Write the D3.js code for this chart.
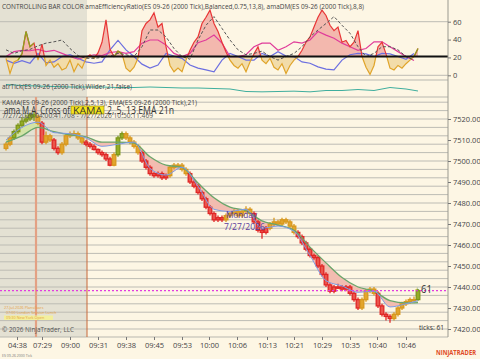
<!DOCTYPE html>
<html>
<head>
<meta charset="utf-8">
<script src="https://cdn.jsdelivr.net/npm/d3@7"></script>
<style>
  body { margin: 0; background: #fdf6e4; }
  svg { display: block; font-family: "Open Sans", "Noto Sans", sans-serif; }
</style>
</head>
<body>
<svg id="chart" width="480" height="359"></svg>
<script>
// ---- data ----
var timeTickBars = [2.75, 9, 16, 23, 30, 37, 44, 50.75, 57.75, 65.25, 72, 79, 86, 92.75, 100];
var timeLabels = ["04:38", "07:29", "09:00", "09:31", "09:38", "09:45", "09:53", "10:00", "10:06", "10:13", "10:21", "10:29", "10:35", "10:40", "10:46"];
var priceTicks = [7420, 7430, 7440, 7450, 7460, 7470, 7480, 7490, 7500, 7510, 7520];
var oscTicks = [0, 20, 40, 60];

var opens = [7506,7508,7511,7514,7517,7519,7520,7522,7521,7518,
  7509,7512,7510,7506,7504,7508,7512,7513,7513,7511,
  7509,7508,7507,7505.5,7504,7503,7501,7498,7503,7511,
  7513,7511,7509,7507,7504,7500,7497,7494,7493,7494,
  7492,7493,7497,7498,7498,7496,7494,7490,7488,7485,
  7482,7478,7475,7472,7473,7472,7474,7475,7476,7474,
  7476,7477,7475,7471,7467,7466,7468,7470,7471,7470,
  7472,7471,7469,7466,7464,7461,7458,7455,7454,7450,
  7446,7441,7438,7440,7440,7439,7440,7437,7434,7430,
  7434,7438,7439,7437,7431,7427,7426,7425,7427,7430,
  7432,7433,7434,7434];
var highs = [7509,7512,7515,7518,7521,7522,7523,7523.5,7522,7519,
  7514,7513,7511,7507,7509,7513,7514,7514.5,7514,7512,
  7510,7509,7508,7506,7505,7504,7502,7504,7512,7514,
  7514,7512,7510,7508,7505,7501,7498,7495,7495,7495,
  7494,7498,7499,7499,7499,7497,7495,7491,7489,7486,
  7483,7479,7476,7474,7474,7475,7476,7477,7477,7477,
  7478.5,7478,7476,7472,7468,7469,7471,7473,7472,7473,
  7473,7472,7470,7467,7465,7462,7459,7456,7455,7451,
  7447,7442,7441,7441.5,7441,7441,7441,7438,7435,7435,
  7439,7440,7440,7438,7432,7428,7427,7428,7431,7433,
  7434,7435,7435.5,7439];
var lows = [7505,7507,7510,7513,7516,7518,7519,7519,7517,7508,
  7508,7509,7505,7503,7503,7507,7511,7512,7510,7508,
  7507,7506,7505,7503,7502,7500,7497.5,7497.5,7502,7510,
  7510,7508,7506,7503,7499,7496,7493,7492,7492,7491,
  7491,7492,7496,7497,7495,7493,7489,7487,7484,7481,
  7477,7474,7471,7471,7471,7471,7473,7474,7473,7473,
  7475,7474,7470,7466,7463,7465,7467,7469,7469,7469,
  7470,7468,7465,7463,7460,7457,7454,7453,7449,7445,
  7440,7437,7437,7439,7438,7438,7436,7433,7429,7429,
  7433,7437,7436,7430,7426,7424,7423,7424,7426,7429,
  7431,7432,7433,7433.5];
var closes = [7508,7511,7514,7517,7519,7520,7522,7521,7518,7509,
  7512,7510,7506,7504,7508,7512,7513,7513,7511,7509,
  7508,7507,7505.5,7504,7503,7501,7498,7503,7511,7513,
  7511,7509,7507,7504,7500,7497,7494,7493,7494,7492,
  7493,7497,7498,7498,7496,7494,7490,7488,7485,7482,
  7478,7475,7472,7473,7472,7474,7475,7476,7474,7476,
  7477,7475,7471,7467,7466,7468,7470,7471,7470,7472,
  7471,7469,7466,7464,7461,7458,7455,7454,7450,7446,
  7441,7438,7440,7440,7439,7440,7437,7434,7430,7434,
  7438,7439,7437,7431,7427,7426,7425,7427,7430,7432,
  7433,7434,7434,7438.25];
// bar colour state: r = trend down, o = chop, g = trend up
var barColors = ("oo gggggg o r oo rr oooooo rrrrrrr o gg oooo rrrrrrr ooooo rrrrrrrrr " +
  "ooooooo rrrr ooooooo rrrrrrrrrrrrrrrr oooo rrrr oooooo g").replace(/ /g, "").split("");

// KAMA / EMA, one reading every 4 bars (and the last bar)
var emaVals = [7509,7512,7516,7514,7512.4,7511.5,7509,7509,7508.5,7502,7498,7497,7489.5,7482.5,
  7478,7476.3,7471.5,7469.5,7467,7459,7451.5,7444.5,7440,7438,7433.5,7432.4,7432.6];
var kamaVals = [7510,7516,7518.5,7513.5,7513,7511,7507,7508,7509,7496.5,7493.3,7497,7488,7477,
  7476,7477,7468,7469,7466.5,7455,7443,7440.5,7437.5,7438,7430.5,7432,7433.5];
var atrVals = [13.7,13.1,12.8,12.5,12.2,12.2,12.2,11.9,11.9,12.2,11.9,11.6,11.6,11.3,11,
  9.5,9.3,9.5,9.7,9.3,10.1,10.1,10.7,10.1,11.9,11,9.8];

// oscillator panel: efficiency ratio every bar, the others every 2 bars
var erVals = [19,2,15,17,24,49,32,36,17,35,
  11,17,9,13,6,8,17,4,13,8,
  19,23,19,25,37,62,29,21,27,24,
  8,4,9,19,50,58,62,70,54,58,
  32,11,4,8,4,17,28,37,43,58,
  65,73,58,49,37,26,17,11,8,13,
  4,15,24,32,17,13,19,9,6,13,
  2,11,17,21,28,37,43,54,65,73,
  67,56,50,54,37,39,32,37,50,21,
  9,1,11,32,37,24,8,6,11,8,
  13,17,21,30];
var erGreen = [[3, 7], [27, 29], [102, 103]];
var erLevel = 21;
var dmPlus = [21,26.5,28,27.5,29,26.5,28,24.5,21,18, 21,23,22,25.5,26.5,24.5,26.5,36,39.5,39.5,
  34,24.5,21,24.5,36.5,39.5,45,36,21,21, 23,32,36,36,28,32,37.5,36,39.5,49,
  45,41.5,36,32,28,30,37.5,37.5,32,26.5, 21,16.5];
var dmMinus = [17,13.5,16.5,13.5,24.5,14,15,21,23,19, 15,13.5,15,28.5,39,28.5,21,12.5,8,11.5,
  24.5,21.5,19,11.5,8,6,4,17,24.5,21, 17,17,24.5,21,26.5,21.5,21,15,13.5,9.5,
  7,6,17,23,24.5,24,21,24.5,24,21, 18,24.5];
var adx = [28.5,24.5,27.5,29,33,36,37.5,39.5,30,22, 19,19,20,21.5,24.5,23,21,32,50.7,50.7,
  43,30,21,18,39.5,56,65.7,52.5,39.5,28.5, 23,24.5,27,21,17,21,24.5,32,43,50.7,
  58,65.7,56,47,32,21,24.5,32,32,28.5, 21,17];

var sessionLines = [7.5, 20.25];   // bar positions of London lunch / NY open lines
var lastPrice = 7438.25;

// ---- layout ----
var svg = d3.select("#chart");
var axisX = 448;
var oscBottom = 80, priceTop = 97, priceBottom = 337;

var x = d3.scaleLinear().domain([0, closes.length - 1]).range([6, 418]);
var yOsc = d3.scaleLinear().domain([0, 60]).range([75.3, 21.7]);
var yAtr = d3.scaleLinear().domain([8, 14]).range([94, 84]);
var y = d3.scaleLinear().domain([7420, 7520]).range([329, 119]);

var defs = svg.append("defs");
function clipRect(id, x0, y0, x1, y1) {
  defs.append("clipPath").attr("id", id).append("rect")
    .attr("x", x0).attr("y", y0).attr("width", x1 - x0).attr("height", y1 - y0);
}
clipRect("oscClip", 0, 0, axisX, oscBottom);
clipRect("erUp", 0, 0, axisX, yOsc(erLevel));
clipRect("erDn", 0, yOsc(erLevel), axisX, oscBottom);
clipRect("priceClip", 0, priceTop, axisX, priceBottom);

svg.append("rect").attr("width", 480).attr("height", 359).attr("fill", "#fdf6e4");
// pre-market shading
svg.append("rect").attr("x", 0).attr("y", 0)
  .attr("width", x(sessionLines[1])).attr("height", priceBottom)
  .attr("fill", "#e4e1d3");

// ---- oscillator panel ----
var osc = svg.append("g").attr("clip-path", "url(#oscClip)");
osc.selectAll(".ogrid").data([0, 60]).enter().append("line")
  .attr("x1", 0).attr("x2", axisX)
  .attr("y1", function(d) { return yOsc(d); }).attr("y2", function(d) { return yOsc(d); })
  .attr("stroke", "#bdbcb4");

var erArea = d3.area()
  .x(function(d, i) { return x(i); })
  .y0(yOsc(erLevel))
  .y1(function(d) { return yOsc(d); });
var erLine = d3.line()
  .x(function(d, i) { return x(i); })
  .y(function(d) { return yOsc(d); });

osc.append("path").datum(erVals).attr("d", erArea)
  .attr("fill", "#f3b8ae").attr("clip-path", "url(#erUp)");
osc.append("path").datum(erVals).attr("d", erArea)
  .attr("fill", "#f2dca9").attr("clip-path", "url(#erDn)");

var halfLine = d3.line()
  .x(function(d, i) { return x(i * 2); })
  .y(function(d) { return yOsc(d); });

osc.append("path").datum(dmMinus).attr("d", halfLine)
  .attr("fill", "none").attr("stroke", "#6c6fe0").attr("stroke-width", 1.2);
osc.append("path").datum(dmPlus).attr("d", halfLine)
  .attr("fill", "none").attr("stroke", "#e03c9a").attr("stroke-width", 1.2);

osc.append("path").datum(erVals).attr("d", erLine)
  .attr("fill", "none").attr("stroke", "#e83636").attr("stroke-width", 1.2)
  .attr("clip-path", "url(#erUp)");
osc.append("path").datum(erVals).attr("d", erLine)
  .attr("fill", "none").attr("stroke", "#e0a42a").attr("stroke-width", 1.2)
  .attr("clip-path", "url(#erDn)");

erGreen.forEach(function(r) {
  var seg = erVals.slice(r[0], r[1] + 1);
  osc.append("path").datum(seg)
    .attr("d", d3.line().x(function(d, i) { return x(r[0] + i); }).y(function(d) { return yOsc(d); }))
    .attr("fill", "none").attr("stroke", "#8da21e").attr("stroke-width", 1.3);
});

osc.append("path").datum(adx).attr("d", halfLine)
  .attr("fill", "none").attr("stroke", "#555").attr("stroke-width", 1)
  .attr("stroke-dasharray", "3,2");

osc.append("line").attr("x1", 0).attr("x2", axisX)
  .attr("y1", yOsc(erLevel)).attr("y2", yOsc(erLevel))
  .attr("stroke", "#111").attr("stroke-width", 2);

// ---- ATR panel ----
var maBars = d3.range(0, closes.length, 4).concat([closes.length - 1]);
svg.append("path").datum(atrVals)
  .attr("d", d3.line().x(function(d, i) { return x(maBars[i]); }).y(function(d) { return yAtr(d); }))
  .attr("fill", "none").attr("stroke", "#3fae9e").attr("stroke-width", 1);

// panel separators
svg.selectAll(".sep").data([oscBottom, priceTop, priceBottom]).enter().append("line")
  .attr("x1", 0).attr("x2", axisX).attr("y1", function(d) { return d; }).attr("y2", function(d) { return d; })
  .attr("stroke", "#b8b7af");

// ---- price panel ----
var price = svg.append("g").attr("clip-path", "url(#priceClip)");
price.selectAll(".pgrid").data(d3.range(7420, 7530, 4)).enter().append("line")
  .attr("x1", 0).attr("x2", axisX)
  .attr("y1", function(d) { return y(d); }).attr("y2", function(d) { return y(d); })
  .attr("stroke", "#bdbcb4").attr("stroke-width", 1);

price.append("line")
  .attr("x1", x(sessionLines[0])).attr("x2", x(sessionLines[0]))
  .attr("y1", priceTop).attr("y2", priceBottom)
  .attr("stroke", "#e3a184").attr("stroke-width", 2.2);
price.append("line")
  .attr("x1", x(sessionLines[1])).attr("x2", x(sessionLines[1]))
  .attr("y1", priceTop).attr("y2", priceBottom)
  .attr("stroke", "#c8683a").attr("stroke-width", 1);

var maPts = maBars.map(function(b, j) { return {b: b, ema: emaVals[j], kama: kamaVals[j]}; });
var curve = d3.curveMonotoneX;
defs.append("clipPath").attr("id", "aboveEma").append("path").datum(maPts)
  .attr("d", d3.area().curve(curve).x(function(d) { return x(d.b); })
    .y0(priceTop).y1(function(d) { return y(d.ema); }));
defs.append("clipPath").attr("id", "belowEma").append("path").datum(maPts)
  .attr("d", d3.area().curve(curve).x(function(d) { return x(d.b); })
    .y0(function(d) { return y(d.ema); }).y1(priceBottom));

var band = d3.area().curve(curve)
  .x(function(d) { return x(d.b); })
  .y0(function(d) { return y(d.ema); })
  .y1(function(d) { return y(d.kama); });
price.append("path").datum(maPts).attr("d", band)
  .attr("fill", "#d3e3a6").attr("clip-path", "url(#aboveEma)");
price.append("path").datum(maPts).attr("d", band)
  .attr("fill", "#f2bcb0").attr("clip-path", "url(#belowEma)");

var barStyle = {
  r: {fill: "#ea564c", stroke: "#e02626"},
  o: {fill: "#e2a52c", stroke: "#d8981e"},
  g: {fill: "#94ad24", stroke: "#7c961a"}
};
var bars = closes.map(function(c, i) {
  return {i: i, o: opens[i], h: highs[i], l: lows[i], c: c, k: barColors[i]};
});
var candle = price.selectAll(".bar").data(bars).enter().append("g");
candle.append("line")
  .attr("x1", function(d) { return x(d.i); }).attr("x2", function(d) { return x(d.i); })
  .attr("y1", function(d) { return y(d.h); }).attr("y2", function(d) { return y(d.l); })
  .attr("stroke", function(d) { return barStyle[d.k].stroke; }).attr("stroke-width", 1.3);
candle.append("rect")
  .attr("x", function(d) { return x(d.i) - 1.8; })
  .attr("width", 3.6)
  .attr("y", function(d) { return y(Math.max(d.o, d.c)); })
  .attr("height", function(d) { return Math.max(1.2, Math.abs(y(d.o) - y(d.c))); })
  .attr("fill", function(d) { return barStyle[d.k].fill; })
  .attr("stroke", function(d) { return barStyle[d.k].stroke; })
  .attr("stroke-width", 1.3);

var maLine = function(key) {
  return d3.line().curve(curve).x(function(d) { return x(d.b); }).y(function(d) { return y(d[key]); });
};
price.append("path").datum(maPts).attr("d", maLine("ema"))
  .attr("fill", "none").attr("stroke", "#6aa56a").attr("stroke-width", 1.3);
price.append("path").datum(maPts).attr("d", maLine("kama"))
  .attr("fill", "none").attr("stroke", "#7f9ce6").attr("stroke-width", 1);

price.append("line").attr("x1", 0).attr("x2", axisX)
  .attr("y1", y(lastPrice)).attr("y2", y(lastPrice))
  .attr("stroke", "#e23ce0").attr("stroke-width", 1.2).attr("stroke-dasharray", "2,2");

// ---- axes ----
svg.append("line").attr("x1", axisX).attr("x2", axisX).attr("y1", 0).attr("y2", priceBottom)
  .attr("stroke", "#9a998f");

function styleAxis(g) {
  g.select(".domain").remove();
  g.selectAll("line").attr("stroke", "#777");
  g.selectAll("text").attr("fill", "#444").style("font-size", "7.5px")
    .style("font-family", "'Open Sans', 'Noto Sans', sans-serif");
}
svg.append("g").attr("transform", "translate(" + axisX + ",0)")
  .call(d3.axisRight(yOsc).tickValues(oscTicks).tickSize(3).tickPadding(2))
  .call(styleAxis);
svg.append("g").attr("transform", "translate(" + axisX + ",0)")
  .call(d3.axisRight(y).tickValues(priceTicks).tickFormat(d3.format(".2f")).tickSize(3).tickPadding(2))
  .call(styleAxis);
svg.append("g").attr("transform", "translate(0," + priceBottom + ")")
  .call(d3.axisBottom(x).tickValues(timeTickBars)
    .tickFormat(function(d, i) { return timeLabels[i]; }).tickSize(3).tickPadding(3))
  .call(styleAxis);

// ---- texts ----
function label(txt, px, py, size, color, len) {
  var t = svg.append("text").attr("x", px).attr("y", py)
    .style("font-size", size + "px").attr("fill", color).text(txt);
  if (len) t.attr("textLength", len).attr("lengthAdjust", "spacingAndGlyphs");
  return t;
}
label("CONTROLLING BAR COLOR amaEfficiencyRatio(ES 09-26 (2000 Tick),Balanced,0.75,13,8), amaDM(ES 09-26 (2000 Tick),8,8)",
  2, 9, 7.5, "#444", 362);
label("atrTick(ES 09-26 (2000 Tick),Wilder,21,false)", 2, 89, 7, "#444", 130);
label("KAMA(ES 09-26 (2000 Tick),2,5,13), EMA(ES 09-26 (2000 Tick),21)", 2, 105, 7, "#444", 195);
label("7/27/2026 04:00:41.708 - 7/27/2026 10:50:11.469", 2, 118, 6.5, "#555", 151);
svg.append("rect").attr("x", 71).attr("y", 106).attr("width", 33).attr("height", 8)
  .attr("fill", "#f5e51c").attr("stroke", "#8a7a10").attr("stroke-width", 0.6);
label("ama M.A. Cross of", 4, 114, 10, "#333", 66);
label("KAMA", 73, 113.5, 9, "#333", 29);
label("2, 5, 13 EMA 21n", 107, 114, 10, "#333", 67);

label("Monday", 226, 218, 9, "#5b3b9c", 31);
label("7/27/2026", 224, 230, 9, "#5b3b9c", 41);

label("+", 415, 292, 8, "#7c961a");
label("61", 421, 293, 10.5, "#333", 11);
label("ticks: 61", 419, 330, 7, "#333", 25);

label("27-Jul-2026 Plans/bars", 4, 309, 3.8, "#e6a040");
label("07:00 London Session Lunch", 6, 314, 3.8, "#e6a040");
svg.append("rect").attr("x", 4).attr("y", 315.5).attr("width", 49).attr("height", 4.5).attr("fill", "#f3ef9c");
label("09:30 New York Open", 6, 319, 3.8, "#e6a040");
label("\u00a9 2026 NinjaTrader, LLC", 2, 332, 8, "#555", 72);

label("ES 09-26 2000 Tick", 2, 357, 3.5, "#777");
label("NINJATRADER", 436, 355, 6.3, "#e04a26", 40).style("font-weight", "bold");
</script>
</body>
</html>
